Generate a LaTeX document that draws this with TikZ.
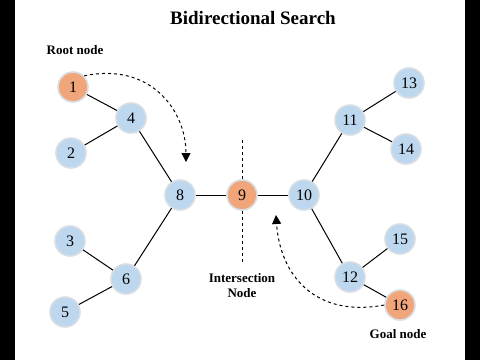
\documentclass[tikz,border=0pt]{standalone}
\usepackage{fontspec}
\setmainfont{Liberation Serif}
\usetikzlibrary{arrows.meta}
\definecolor{nodeblue}{HTML}{BDD7EE}
\definecolor{nodeorange}{HTML}{F0A67A}
\definecolor{rimgray}{HTML}{D9DEE4}
\begin{document}
\begin{tikzpicture}[x=1pt,y=-1pt,
  vertex/.style={circle,fill=nodeblue,draw=rimgray,line width=1.6pt,
    minimum size=30pt,inner sep=0pt,font=\fontsize{16}{16}\selectfont},
  hot/.style={vertex,fill=nodeorange},
  edge/.style={line width=1pt},
  trail/.style={dashed,line width=1pt,-{Triangle[length=9pt,width=9pt]}},
  tag/.style={font=\bfseries\fontsize{13}{15}\selectfont,align=center}]
\useasboundingbox (0,0) rectangle (480,360);
\fill[white] (0,0) rectangle (480,360);
\fill[black] (0,0) rectangle (15,360);
\fill[black] (465,0) rectangle (480,360);

\node[font=\bfseries\fontsize{19}{22}\selectfont] (title) at (253,18) {Bidirectional Search};

% left tree
\node[hot] (n1) at (73,87) {1};
\node[vertex] (n4) at (131,118) {4};
\node[vertex] (n2) at (71,153) {2};
\node[vertex] (n8) at (180,195) {8};
\node[vertex] (n3) at (70,241) {3};
\node[vertex] (n6) at (126,279) {6};
\node[vertex] (n5) at (65,312) {5};
% meeting point
\node[hot] (n9) at (242,195) {9};
% right tree
\node[vertex] (n10) at (304,195) {10};
\node[vertex] (n11) at (350,120) {11};
\node[vertex] (n13) at (409,83) {13};
\node[vertex] (n14) at (406,149) {14};
\node[vertex] (n12) at (350,277) {12};
\node[vertex] (n15) at (400,239) {15};
\node[hot] (n16) at (400,305) {16};

\draw[edge] (n1) -- (n4);
\draw[edge] (n2) -- (n4);
\draw[edge] (n4) -- (n8);
\draw[edge] (n8) -- (n6);
\draw[edge] (n3) -- (n6);
\draw[edge] (n5) -- (n6);
\draw[edge] (n8) -- (n9);
\draw[edge] (n9) -- (n10);
\draw[edge] (n10) -- (n11);
\draw[edge] (n11) -- (n13);
\draw[edge] (n11) -- (n14);
\draw[edge] (n10) -- (n12);
\draw[edge] (n12) -- (n15);
\draw[edge] (n12) -- (n16);

% labels
\node[tag] (rootlbl) at (75,50) {Root node};
\node[tag] (meetlbl) at (242,286) {Intersection\\Node};
\node[tag] (goallbl) at (398,334) {Goal node};

% divider through the meeting node
\coordinate (cuttop) at (242,140);
\coordinate (cutbot) at (242,262);
\draw[dashed,line width=1pt] (cuttop) -- (n9.north);
\draw[dashed,line width=1pt] (n9.south) -- (cutbot);

% search directions
\coordinate (fwdend) at (186,162);
\coordinate (bwdend) at (276,215);
\draw[trail] (n1.north east) .. controls (150,62) and (186,110) .. (fwdend);
\draw[trail] (n16.west) .. controls (315,318) and (280,275) .. (bwdend);
\end{tikzpicture}
\end{document}
